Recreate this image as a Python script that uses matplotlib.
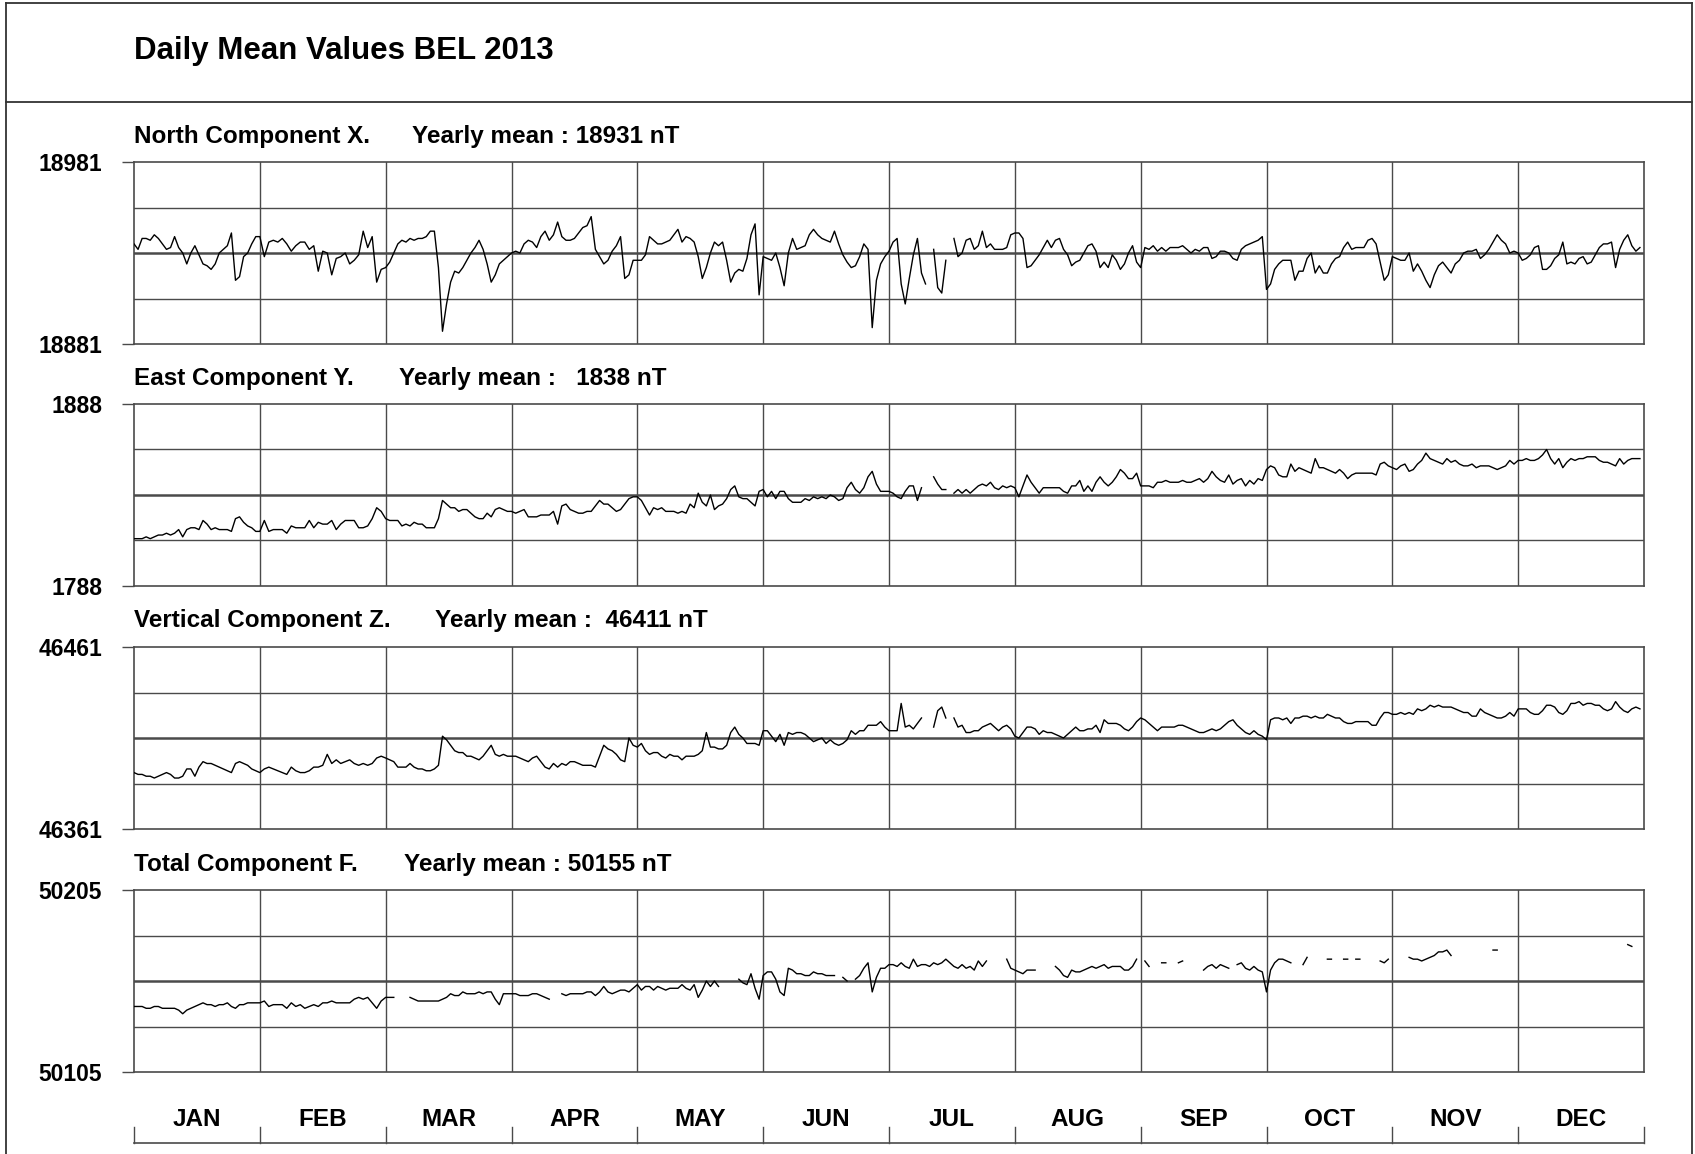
import numpy as np
import matplotlib.pyplot as plt
from matplotlib.lines import Line2D

nan = np.nan

months = ['JAN', 'FEB', 'MAR', 'APR', 'MAY', 'JUN',
          'JUL', 'AUG', 'SEP', 'OCT', 'NOV', 'DEC']

# yearly means (nT)
x_mean = 18931
y_mean = 1838
z_mean = 46411
f_mean = 50155

# daily means, as deviation from the yearly mean (nT), one list per month
x_dev = [
    [5, 2, 8, 8, 7, 10, 8, 5, 2, 3, 9, 3, 0, -6, 0, 4, -1, -6, -7, -9, -6, 0, 2, 4, 11, -15, -13, -2, 0, 5, 9],
    [9, -2, 6, 7, 6, 8, 5, 1, 4, 6, 6, 2, 4, -10, 1, 0, -12, -3, -2, 0, -6, -4, -1, 12, 3, 9, -16, -9],
    [-8, -5, 0, 5, 7, 6, 8, 7, 8, 8, 9, 12, 12, -8, -43, -28, -16, -10, -11, -8, -4, 0, 3, 7, 2, -6, -16, -12, -6, -4, -2],
    [0, 1, 0, 5, 7, 6, 3, 9, 12, 7, 10, 17, 9, 7, 7, 8, 11, 14, 15, 20, 2, -2, -6, -4, 1, 4, 9, -14, -12, -4],
    [-4, -4, -1, 9, 7, 5, 5, 6, 7, 10, 13, 6, 9, 8, 6, -2, -14, -8, 0, 6, 4, 6, -4, -16, -11, -9, -10, -3, 10, 16, -23],
    [-2, -3, -4, 0, -8, -18, 0, 8, 2, 3, 4, 10, 13, 10, 8, 7, 6, 12, 5, -1, -5, -8, -7, -2, 5, 2, -41, -15, -6, -2],
    [1, 6, 8, -17, -28, -14, -1, 8, -11, -17, nan, 2, -19, -22, -4, nan, 8, -2, 0, 7, 8, 2, 4, 12, 3, 5, 2, 2, 2, 3, 10],
    [11, 11, 8, -8, -7, -4, -1, 3, 7, 3, 7, 8, 2, -1, -7, -5, -4, 0, 4, 5, 1, -8, -5, -8, -1, -4, -9, -6, 0, 4, -5],
    [-8, 3, 2, 4, 1, 3, 1, 3, 3, 3, 4, 2, 0, 2, 1, 3, 3, -3, -2, 1, 1, 0, -3, -4, 2, 4, 5, 6, 7, 9],
    [-20, -17, -9, -6, -4, -4, -4, -15, -10, -10, -3, 0, -11, -7, -11, -11, -6, -3, -2, 3, 6, 2, 3, 3, 3, 7, 8, 5, -5, -15, -12],
    [-2, -3, -4, -4, 0, -10, -6, -10, -15, -19, -12, -7, -5, -8, -11, -6, -4, 0, 1, 1, 2, -3, -1, 2, 6, 10, 7, 5, 0, 1],
    [0, -4, -3, -1, 3, 4, -9, -9, -7, -3, -1, 6, -6, -5, -6, -3, -2, -6, -5, -1, 3, 5, 5, 6, -8, 2, 7, 10, 4, 1, 3],
]

y_dev = [
    [-24, -24, -24, -23, -24, -23, -22, -22, -21, -22, -21, -19, -23, -19, -18, -18, -19, -14, -16, -19, -18, -19, -19, -19, -20, -13, -12, -15, -17, -18, -20],
    [-20, -14, -20, -19, -19, -19, -21, -17, -18, -18, -18, -14, -18, -15, -16, -16, -14, -19, -16, -14, -14, -14, -18, -18, -17, -13, -7, -9],
    [-13, -14, -14, -14, -17, -16, -17, -15, -16, -16, -18, -18, -18, -13, -3, -5, -7, -7, -9, -8, -8, -10, -12, -13, -13, -10, -12, -8, -7, -8, -9],
    [-9, -10, -9, -8, -12, -12, -12, -11, -11, -11, -9, -16, -6, -5, -8, -9, -10, -10, -9, -9, -6, -3, -5, -5, -7, -9, -8, -5, -2, -1],
    [-1, -3, -7, -11, -7, -8, -7, -9, -9, -9, -10, -9, -10, -5, -7, 1, -4, -6, 0, -8, -6, -5, -2, 3, 5, -1, -2, -2, -4, -6, 2],
    [3, -1, 2, -2, 2, 2, -2, -4, -4, -4, -2, -3, -1, -2, -1, -2, 0, -1, -3, -2, 4, 7, 3, 1, 4, 10, 13, 6, 2, 2],
    [2, 1, -1, -2, 2, 5, 5, -3, 4, nan, nan, 10, 6, 3, 3, nan, 1, 3, 1, 3, 1, 3, 5, 6, 5, 7, 4, 3, 5, 4, 5],
    [4, -1, 5, 11, 7, 4, 1, 4, 4, 4, 4, 4, 2, 1, 5, 5, 8, 2, 5, 2, 7, 10, 7, 5, 7, 10, 14, 12, 9, 9, 12],
    [5, 5, 5, 4, 7, 7, 8, 7, 7, 7, 8, 7, 7, 8, 9, 7, 9, 13, 10, 8, 7, 11, 6, 8, 9, 5, 8, 6, 9, 8],
    [14, 16, 15, 11, 10, 10, 17, 13, 15, 14, 13, 12, 20, 15, 15, 14, 13, 12, 14, 12, 9, 11, 12, 12, 12, 12, 12, 11, 17, 18, 16],
    [15, 14, 16, 17, 13, 14, 17, 19, 23, 20, 19, 18, 17, 20, 18, 19, 17, 16, 16, 17, 15, 16, 16, 16, 15, 14, 15, 16, 19, 17],
    [19, 19, 20, 19, 19, 20, 22, 25, 20, 17, 20, 15, 18, 20, 19, 20, 20, 21, 21, 21, 19, 18, 18, 17, 16, 20, 17, 19, 20, 20, 20],
]

z_dev = [
    [-19, -20, -20, -21, -21, -22, -21, -20, -19, -20, -22, -22, -21, -17, -17, -21, -16, -13, -14, -14, -15, -16, -17, -18, -19, -14, -13, -14, -15, -17, -18],
    [-19, -17, -16, -17, -18, -19, -20, -16, -18, -19, -19, -18, -16, -16, -15, -9, -14, -12, -14, -13, -12, -14, -15, -14, -15, -14, -11, -10],
    [-11, -12, -13, -16, -16, -16, -14, -16, -17, -17, -18, -18, -17, -15, 1, -1, -4, -7, -8, -8, -10, -10, -11, -12, -10, -7, -4, -9, -10, -9, -10],
    [-10, -10, -11, -12, -13, -11, -10, -13, -16, -17, -14, -16, -14, -15, -13, -13, -14, -15, -15, -15, -16, -10, -4, -6, -7, -9, -12, -13, 0, -4],
    [-5, -3, -7, -9, -8, -8, -10, -11, -9, -10, -10, -12, -10, -10, -10, -9, -7, 3, -5, -5, -6, -6, -4, 3, 6, 2, 0, -3, -3, -3, -4],
    [4, 4, 1, -2, 2, -4, 3, 2, 3, 3, 2, 0, -2, -1, 0, -3, -1, -3, -4, -3, -1, 4, 2, 4, 4, 7, 7, 7, 9, 6],
    [4, 4, 4, 19, 6, 7, 5, 8, 11, nan, nan, 6, 15, 17, 11, nan, 11, 6, 7, 3, 3, 4, 4, 6, 7, 8, 6, 4, 6, 7, 5],
    [1, 0, 3, 6, 6, 5, 2, 4, 3, 3, 2, 1, 0, 2, 4, 6, 4, 4, 5, 5, 7, 3, 10, 8, 8, 8, 7, 5, 4, 6, 9],
    [11, 10, 8, 6, 4, 6, 6, 6, 6, 7, 7, 6, 5, 4, 3, 3, 4, 5, 4, 5, 7, 9, 10, 7, 5, 3, 2, 4, 2, 1],
    [-1, 10, 11, 11, 10, 11, 8, 11, 11, 12, 12, 11, 12, 11, 11, 13, 12, 11, 11, 9, 8, 8, 9, 9, 9, 9, 7, 7, 11, 14, 14],
    [13, 13, 14, 13, 14, 13, 16, 15, 16, 18, 17, 18, 17, 17, 17, 16, 15, 14, 14, 12, 12, 16, 14, 13, 12, 11, 11, 12, 14, 12],
    [16, 16, 16, 14, 13, 13, 15, 18, 18, 17, 14, 13, 15, 19, 19, 20, 18, 19, 19, 18, 18, 16, 15, 16, 20, 17, 15, 14, 16, 17, 16],
]

f_dev = [
    [-14, -14, -14, -15, -15, -14, -14, -15, -15, -15, -15, -16, -18, -16, -15, -14, -13, -12, -13, -13, -14, -13, -13, -12, -14, -15, -13, -13, -12, -12, -12],
    [-12, -11, -14, -13, -13, -13, -15, -12, -14, -13, -15, -14, -13, -14, -12, -12, -11, -12, -12, -12, -12, -10, -9, -10, -9, -12, -15, -11],
    [-9, -9, -9, nan, nan, nan, -9, -10, -11, -11, -11, -11, -11, -11, -10, -9, -7, -8, -8, -6, -7, -7, -7, -6, -7, -6, -6, -10, -13, -7, -7],
    [-7, -7, -8, -8, -8, -7, -7, -8, -9, -10, nan, nan, -7, -8, -7, -7, -7, -7, -6, -6, -8, -6, -3, -6, -7, -6, -5, -5, -6, -4],
    [-2, -5, -3, -3, -5, -3, -4, -5, -4, -4, -4, -2, -4, -5, -2, -9, -5, 0, -3, 0, -3, nan, nan, nan, nan, 1, -1, -2, 4, -4, -10],
    [3, 5, 5, 1, -6, -8, 7, 6, 4, 4, 3, 3, 5, 4, 4, 3, 3, 3, nan, 2, 0, nan, 1, 3, 7, 10, -6, 2, 7, 7],
    [9, 9, 8, 10, 8, 7, 12, 8, 9, 9, 8, 10, 9, 10, 12, 10, 8, 7, 9, 7, 8, 6, 11, 8, 11, nan, nan, nan, nan, 12, 7],
    [6, 5, 4, 6, 6, 6, nan, nan, nan, nan, 8, 6, 3, 2, 6, 5, 5, 6, 7, 8, 7, 8, 9, 7, 8, 8, 8, 6, 6, 8, 12],
    [nan, 11, 8, nan, nan, 10, 10, nan, nan, 10, 11, nan, nan, nan, nan, 6, 8, 9, 7, 9, 8, 7, nan, 9, 10, 7, 6, 8, 6, 5],
    [-6, 6, 10, 12, 12, 11, 10, nan, nan, 9, 13, nan, nan, nan, nan, 12, 12, nan, nan, 12, 12, nan, 12, 12, nan, nan, nan, nan, 11, 10, 12],
    [nan, nan, nan, nan, 13, 12, 12, 11, 12, 13, 14, 16, 16, 17, 14, nan, nan, nan, nan, nan, nan, nan, nan, nan, 17, 17, nan, nan, nan, nan],
    [nan] * 27 + [20, 19, nan, nan],
]

panel_names = ['North Component X.', 'East Component Y.',
               'Vertical Component Z.', 'Total Component F.']
mean_labels = ['Yearly mean : 18931 nT', 'Yearly mean :   1838 nT',
               'Yearly mean :  46411 nT', 'Yearly mean : 50155 nT']
means = [x_mean, y_mean, z_mean, f_mean]
devs = [x_dev, y_dev, z_dev, f_dev]

# ---- layout (pixels of the 1695 x 1154 output) ----
W, H = 1695, 1154
plt.rcParams['font.family'] = ['Liberation Sans', 'DejaVu Sans']
fig = plt.figure(figsize=(W / 100, H / 100), dpi=100)

def fx(px):
    return px / W

def fy(py):
    return 1 - py / H

grid_col = '#4a4a4a'
left, right = 134, 1644
panel_tops = [162, 404, 647, 890]
panel_h = 182
mean_x = [412, 399, 435, 404]

for k in range(4):
    top = panel_tops[k]
    ax = fig.add_axes([fx(left), fy(top + panel_h), fx(right - left), panel_h / H])
    lo, hi = means[k] - 50, means[k] + 50

    # daily x positions: every month gets the same width
    xs, vs = [], []
    for m, month_vals in enumerate(devs[k]):
        n = len(month_vals)
        for i, v in enumerate(month_vals):
            xs.append(m + i / n)
            vs.append(means[k] + v)
    xs = np.array(xs)
    vs = np.array(vs, dtype=float)

    for m in range(1, 12):
        ax.axvline(m, color=grid_col, lw=1.0, zorder=1)
    for g in [lo + 25, lo + 75]:
        ax.axhline(g, color=grid_col, lw=1.0, zorder=1)
    ax.axhline(means[k], color=grid_col, lw=1.8, zorder=1)

    ax.plot(xs, vs, color='black', lw=1.0, zorder=3)

    ax.set_xlim(0, 12)
    ax.set_ylim(lo, hi)
    ax.set_xticks([])
    ax.set_yticks([lo, hi])
    ax.set_yticklabels([str(lo), str(hi)], fontsize=16.5, fontweight='bold')
    ax.tick_params(axis='y', length=9, width=1.0, color=grid_col, pad=14)
    for s in ax.spines.values():
        s.set_color(grid_col)
        s.set_linewidth(1.2)

    fig.text(fx(left), fy(top - 26), panel_names[k], fontsize=17.5,
             fontweight='bold', va='center', ha='left')
    fig.text(fx(mean_x[k]), fy(top - 26), mean_labels[k], fontsize=17.5,
             fontweight='bold', va='center', ha='left')

# month axis at the bottom
axm = fig.add_axes([fx(left), fy(1143), fx(right - left), 43 / H])
axm.set_xlim(0, 12)
axm.set_ylim(0, 43)
axm.axis('off')
axm.plot([0, 12], [0, 0], color=grid_col, lw=1.2, clip_on=False)
for m in range(13):
    axm.plot([m, m], [0, 16], color=grid_col, lw=1.0, clip_on=False)
for m, name in enumerate(months):
    axm.text(m + 0.5, 24, name, fontsize=17.5, fontweight='bold',
             ha='center', va='center')

# title and outer frame
fig.text(fx(134), fy(51), 'Daily Mean Values BEL 2013', fontsize=22.5,
         fontweight='bold', va='center', ha='left')
frame_kw = dict(color='#333333', lw=1.3, transform=fig.transFigure)
fig.add_artist(Line2D([fx(5.5), fx(5.5)], [fy(3), 0], **frame_kw))
fig.add_artist(Line2D([fx(1692), fx(1692)], [fy(3), 0], **frame_kw))
fig.add_artist(Line2D([fx(5.5), fx(1692)], [fy(3), fy(3)], **frame_kw))
fig.add_artist(Line2D([fx(5.5), fx(1692)], [fy(102), fy(102)], **frame_kw))

fig.savefig('out.png', dpi=100)
